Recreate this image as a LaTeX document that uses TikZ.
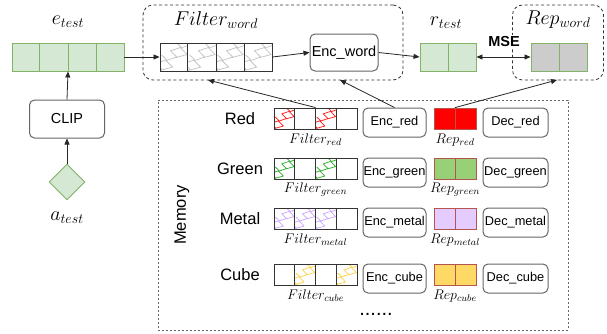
\RequirePackage{fix-cm}
\documentclass[tikz,border=0pt]{standalone}
\usepackage{fontspec}
\newfontfamily\sansf{Liberation Sans}
\usetikzlibrary{arrows.meta,shapes.geometric,calc}

\definecolor{gfill}{HTML}{D5E8D4}
\definecolor{gline}{HTML}{82B366}
\definecolor{redline}{HTML}{B85450}
\definecolor{greenrep}{HTML}{97D077}
\definecolor{metalrep}{HTML}{E5CCFF}
\definecolor{cuberep}{HTML}{FFD966}
\definecolor{greyrep}{HTML}{CCCCCC}
\definecolor{boxline}{HTML}{666666}
\definecolor{cellline}{HTML}{333333}
\definecolor{zred}{HTML}{FF1A1A}
\definecolor{zgreen}{HTML}{2DB02D}
\definecolor{zmetal}{HTML}{CDA8FF}
\definecolor{zcube}{HTML}{FFD24D}
\definecolor{zgrey}{HTML}{C4C4C4}

% zigzag hatching inside one cell: top-left corner (#1,#2), size #3 x #4, colour #5
\newcommand\zigcell[5]{%
  \begin{scope}[shift={({#1},{#2})},x=#3pt,y=-#4pt]
    \clip (0,0) rectangle (1,1);
    \foreach \s in {-1,0,1}{
      \draw[#5,line width=0.75pt,line join=round,shift={({0.52*\s},{-0.45*\s})}]
        (0.05,0.97) -- (0.45,0.86) -- (0.22,0.63) -- (0.6,0.5) -- (0.37,0.28) -- (0.76,0.15) -- (0.58,-0.02);
    }
  \end{scope}}

% vertical separators of a bar node #1 at fractions #2
\newcommand\cellsep[3]{%
  \foreach \f in {#2}{
    \draw[#3,line width=0.8pt] ($(#1.north west)!\f!(#1.north east)$) -- ($(#1.south west)!\f!(#1.south east)$);
  }}

% one memory entry: name, label, top y, zigzag colour, rep fill, hatched cells
\newcommand\memrow[6]{%
  \node[rowlbl] (lbl#1) at (240,#3+10.5) {#2};
  \foreach \c in {#6}{\zigcell{274+(\c-1)*20.75}{#3}{20.75}{21}{#4}}
  \node[cellbar,minimum width=83,minimum height=21] (f#1) at (315.5,#3+10.5) {};
  \cellsep{f#1}{0.25,0.5,0.75}{cellline}
  \node[sublbl] (fl#1) at (315.5,#3+32) {$Filter_{#1}$};
  \node[rbox,minimum width=63,minimum height=29] (e#1) at (394.5,#3+14.5) {Enc\_#1};
  \node[draw=redline,line width=0.8pt,fill=#5,minimum width=42,minimum height=21,inner sep=0pt] (r#1) at (455,#3+10.5) {};
  \cellsep{r#1}{0.5}{redline}
  \node[sublbl] (rl#1) at (455,#3+32) {$Rep_{#1}$};
  \node[rbox,minimum width=65,minimum height=29] (d#1) at (515.5,#3+14.5) {Dec\_#1};
}

\begin{document}
\begin{tikzpicture}[x=1pt,y=-1pt,
  rbox/.style={draw=boxline,line width=1pt,rounded corners=5pt,fill=white,inner sep=0pt,
    font=\sansf\fontsize{12.8}{14}\selectfont},
  bigbox/.style={rbox,font=\sansf\fontsize{14.5}{16}\selectfont},
  gbar/.style={draw=gline,line width=0.9pt,fill=gfill,inner sep=0pt},
  cellbar/.style={draw=cellline,line width=0.9pt,inner sep=0pt},
  dashbox/.style={draw=cellline,line width=0.8pt,dash pattern=on 3pt off 2.5pt,rounded corners=10pt,inner sep=0pt},
  membox/.style={draw=boxline,line width=0.9pt,dash pattern=on 2pt off 2pt,inner sep=0pt},
  toplbl/.style={font=\fontsize{20}{24}\selectfont,inner sep=1pt},
  sublbl/.style={font=\fontsize{14}{16}\selectfont,inner sep=1pt},
  rowlbl/.style={font=\sansf\fontsize{16.5}{18}\selectfont,inner sep=1pt},
  arr/.style={draw=black!85,line width=0.8pt,-{Triangle[length=6pt,width=5pt]}},
  darr/.style={draw=black!85,line width=0.8pt,{Triangle[length=6pt,width=5pt]}-{Triangle[length=6pt,width=5pt]}},
]
\useasboundingbox (0,0) rectangle (607,333);

% containers
\node[dashbox,minimum width=260,minimum height=75] (fwbox) at (273,42.5) {};
\node[dashbox,minimum width=91,minimum height=75] (rwbox) at (558,42.5) {};
\node[membox,minimum width=410,minimum height=230] (mem) at (363,215) {};
\node[rowlbl,rotate=90] (memlbl) at (182,215) {Memory};

% query embedding and its source
\node[gbar,minimum width=112,minimum height=28] (etest) at (68,57) {};
\cellsep{etest}{0.25,0.5,0.75}{gline}
\node[toplbl] (etestl) at (68,22) {$e_{test}$};
\node[bigbox,minimum width=75,minimum height=38] (clip) at (67,119) {CLIP};
\node[diamond,draw=gline,line width=0.9pt,fill=gfill,minimum width=36,minimum height=36,inner sep=0pt] (atest) at (67,182) {};
\node[toplbl] (atestl) at (67,218) {$a_{test}$};

% word filter and encoder
\foreach \c in {1,2,3,4}{\zigcell{160+(\c-1)*28}{43}{28}{28}{zgrey}}
\node[cellbar,minimum width=112,minimum height=28] (fword) at (216,57) {};
\cellsep{fword}{0.25,0.5,0.75}{cellline}
\node[toplbl] (fwordl) at (216,20) {$Filter_{word}$};
\node[bigbox,minimum width=68,minimum height=37] (encw) at (344,52.5) {Enc\_word};

% representations
\node[gbar,minimum width=56,minimum height=28] (rtest) at (448,57) {};
\cellsep{rtest}{0.5}{gline}
\node[toplbl] (rtestl) at (446,23) {$r_{test}$};
\node[draw=gline,line width=0.9pt,fill=greyrep,minimum width=56,minimum height=28,inner sep=0pt] (repw) at (559,57) {};
\cellsep{repw}{0.5}{gline}
\node[toplbl] (repwl) at (558,20) {$Rep_{word}$};

% main flow
\draw[arr] (etest.east) -- (fword.west);
\draw[arr] (fword.east) -- (encw.west);
\draw[arr] (encw.east) -- (rtest.west);
\draw[darr] (rtest.east) -- (repw.west);
\node[fill=white,font=\sansf\bfseries\fontsize{14.5}{16}\selectfont,inner sep=1.5pt] (mse) at (504,42) {MSE};
\draw[arr] (clip.north) -- (etest.south);
\draw[arr] (atest.north) -- (clip.south);

% memory entries
\memrow{red}{Red}{108}{zred}{red}{1,3}
\memrow{green}{Green}{158}{zgreen}{greenrep}{1,3}
\memrow{metal}{Metal}{208}{zmetal}{metalrep}{1,2,3}
\memrow{cube}{Cube}{264}{zcube}{cuberep}{2,4}
\node[font=\sansf\fontsize{20}{20}\selectfont,inner sep=0pt] (more) at (376,314) {......};

% retrieval into the word branch
\coordinate (fwin) at (208,80);
\coordinate (ewin) at (340,80);
\coordinate (rwin) at (557,80);
\draw[arr] (fred.north) -- (fwin);
\draw[arr] (ered.north) -- (ewin);
\draw[arr] (rred.north) -- (rwin);
\end{tikzpicture}
\end{document}
